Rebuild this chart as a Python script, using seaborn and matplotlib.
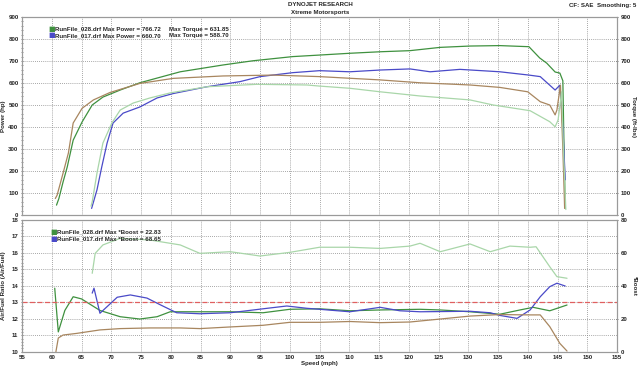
import matplotlib
matplotlib.use("Agg")
import matplotlib.pyplot as plt
from matplotlib.ticker import MultipleLocator
import seaborn as sns
import pandas as pd

# ---------------- data ----------------
p028_mph = [60.8, 61.2, 61.9, 62.6, 63.6, 65.1, 66.8, 68.6, 71.5, 74.8, 81.6, 88.8, 93.8, 100.5, 105.0,
            110.0, 115.2, 120.2, 125.3, 130.3, 135.3, 140.2, 142.0, 143.2, 144.6, 145.4, 145.9, 146.1, 146.3]
p028_hp = [45, 75, 150, 218, 340, 423, 500, 536, 568, 601, 651, 682, 701, 720, 727,
           735, 742, 747, 762, 768, 770, 765, 714, 690, 650, 645, 610, 300, 30]

t028_mph = [60.6, 60.9, 61.9, 62.8, 63.6, 65.1, 67.0, 69.8, 74.8, 80.4, 88.8, 97.2, 105.0, 115.2, 121.9,
            130.3, 135.3, 140.0, 142.1, 143.7, 144.6, 144.9, 145.5, 145.9, 146.2]
t028_tq = [75, 90, 190, 282, 418, 485, 523, 557, 598, 621, 632, 636, 629, 614, 601,
           591, 580, 560, 515, 500, 455, 477, 590, 300, 30]

p017_mph = [66.7, 67.6, 68.4, 69.3, 70.3, 72.0, 74.8, 77.7, 80.4, 86.1, 91.6, 95.0, 100.5, 105.0, 110.1,
            115.2, 120.2, 123.6, 128.6, 135.3, 140.2, 142.1, 144.6, 145.4, 145.9, 146.3]
p017_hp = [30, 114, 218, 327, 418, 463, 491, 532, 552, 583, 606, 629, 647, 656, 651,
           659, 664, 651, 662, 651, 636, 629, 568, 590, 400, 160]

t017_mph = [66.6, 66.8, 67.6, 68.6, 70.1, 71.5, 73.7, 76.5, 79.9, 86.1, 94.5, 102.9, 105.0, 110.1, 115.2,
            121.9, 130.3, 134.2, 140.4, 143.7, 144.6, 145.1, 145.7, 146.0, 146.4]
t017_tq = [40, 60, 190, 327, 418, 477, 509, 532, 555, 583, 594, 591, 586, 576, 560,
           541, 523, 500, 474, 424, 401, 432, 560, 300, 25]

afr028_mph = [60.5, 61.1, 62.2, 63.6, 65.0, 68.1, 71.5, 74.8, 77.7, 79.9, 84.9, 90.0, 95.5, 100.0, 105.0,
              110.1, 115.2, 121.9, 125.3, 130.3, 135.3, 138.7, 140.9, 143.7, 146.6]
afr028 = [13.85, 11.2, 12.5, 13.33, 13.2, 12.5, 12.12, 11.98, 12.12, 12.42, 12.42, 12.42, 12.36, 12.57, 12.6,
          12.48, 12.53, 12.57, 12.53, 12.42, 12.27, 12.53, 12.69, 12.48, 12.83]

afr017_mph = [66.8, 67.1, 68.1, 69.3, 71.0, 73.2, 76.0, 78.2, 81.0, 84.9, 90.0, 96.2, 99.5, 102.9, 105.0,
              110.1, 115.2, 118.5, 121.9, 130.3, 133.7, 135.3, 138.2, 140.4, 142.1, 143.7, 144.9, 146.3]
afr017 = [13.55, 13.85, 12.33, 12.73, 13.3, 13.44, 13.25, 12.85, 12.36, 12.3, 12.36, 12.63, 12.77, 12.63, 12.57,
          12.42, 12.69, 12.48, 12.42, 12.45, 12.36, 12.2, 12.02, 12.53, 13.33, 13.94, 14.15, 13.98]

boost028_mph = [60.7, 61.1, 61.9, 64.2, 68.1, 71.5, 76.5, 81.6, 84.9, 90.0, 95.5, 100.0, 105.0, 110.1, 115.2,
                120.2, 125.3, 130.3, 135.3, 140.4, 142.1, 143.7, 145.4, 146.6]
boost028 = [0, 8.3, 10.1, 11.1, 13.2, 14.0, 14.4, 14.4, 14.0, 15.0, 16.0, 17.8, 17.8, 18.3, 17.6,
            18.0, 19.8, 21.6, 22.5, 22.3, 22.3, 15.2, 5.0, 0.4]

boost017_mph = [66.8, 67.3, 68.6, 71.5, 76.5, 81.6, 84.9, 90.0, 95.0, 100.0, 105.0, 110.1, 115.2, 120.2, 121.9,
                125.3, 130.3, 133.7, 137.0, 140.4, 141.4, 143.7, 144.9, 146.6]
boost017 = [47.5, 59.6, 64.7, 68.7, 67.7, 64.7, 59.6, 60.6, 58.0, 60.2, 63.3, 63.3, 62.6, 64.0, 65.7,
            60.6, 65.3, 60.6, 64.0, 63.3, 63.6, 51.5, 45.5, 44.5]

afr_target = 13.0
legend_top = ["RunFile_028.drf Max Power = 766.72", "RunFile_017.drf Max Power = 660.70"]
legend_top2 = ["Max Torque = 631.85", "Max Torque = 588.70"]
legend_bot = ["RunFile_028.drf Max *Boost = 22.83", "RunFile_017.drf Max *Boost = 68.65"]

# ---------------- style ----------------
sns.set_theme(style="white")
plt.rcParams['font.family'] = ['Liberation Sans', 'DejaVu Sans']
FS = 4.4
C_G = "#3f913f"
C_BR = "#a8865f"
C_BL = "#4a4ac8"
C_LG = "#a9d6a9"
GRIDC = "#8a8a8a"
SPC = "#9a9a9a"

fig = plt.figure(figsize=(6.4, 3.66), dpi=100)
fig.patch.set_facecolor("white")
W, H = 640, 366
ax1 = fig.add_axes([22 / W, 1 - 215 / H, 595 / W, 198 / H])
ax2 = fig.add_axes([22 / W, 1 - 351.7 / H, 595 / W, 132 / H])
ax1r = ax1.twinx()
ax2r = ax2.twinx()

lw = 0.9
sns.lineplot(x=p028_mph, y=p028_hp, ax=ax1, color=C_G, lw=lw)
sns.lineplot(x=p017_mph, y=p017_hp, ax=ax1, color=C_BL, lw=lw)
sns.lineplot(x=t028_mph, y=t028_tq, ax=ax1r, color=C_BR, lw=lw)
sns.lineplot(x=t017_mph, y=t017_tq, ax=ax1r, color=C_LG, lw=lw)

sns.lineplot(x=afr028_mph, y=afr028, ax=ax2, color=C_G, lw=lw)
sns.lineplot(x=afr017_mph, y=afr017, ax=ax2, color=C_BL, lw=lw)
sns.lineplot(x=boost028_mph, y=boost028, ax=ax2r, color=C_BR, lw=lw)
sns.lineplot(x=boost017_mph, y=boost017, ax=ax2r, color=C_LG, lw=lw)
ax2.axhline(afr_target, color="#e06060", lw=0.9, ls=(0, (4, 2)))

for a in (ax1, ax1r, ax2, ax2r):
    a.set_xlim(55, 155)
    for s in a.spines.values():
        s.set_color(SPC)
        s.set_linewidth(0.8)
    a.tick_params(labelsize=FS, pad=1.5, length=2, width=0.5, color="#444444", which="major", direction="inout")
    a.tick_params(which="minor", length=1.2, width=0.4, color="#444444", direction="inout")
    a.set_xlabel("")
    a.set_ylabel("")

ax1.set_ylim(0, 900)
ax1r.set_ylim(0, 900)
ax1.yaxis.set_major_locator(MultipleLocator(100))
ax1.yaxis.set_minor_locator(MultipleLocator(20))
ax1r.yaxis.set_major_locator(MultipleLocator(100))
ax2.set_ylim(10, 18)
ax2.yaxis.set_major_locator(MultipleLocator(1))
ax2.yaxis.set_minor_locator(MultipleLocator(0.2))
ax2r.set_ylim(0, 80)
ax2r.yaxis.set_major_locator(MultipleLocator(20))
for a in (ax1, ax2):
    a.xaxis.set_major_locator(MultipleLocator(5))
    a.xaxis.set_minor_locator(MultipleLocator(1))
    a.grid(True, which="major", color=GRIDC, ls=(0, (1, 1.5)), lw=0.6)
    a.set_axisbelow(True)
ax1.tick_params(axis="x", labelbottom=False)
ax1r.tick_params(axis="x", labelbottom=False)

def bold(a):
    for lab in a.get_xticklabels() + a.get_yticklabels():
        lab.set_fontweight("bold")
        lab.set_fontsize(FS)
for a in (ax1, ax1r, ax2, ax2r):
    bold(a)

ax1.set_ylabel("Power (hp)", fontsize=FS, fontweight="bold")
ax1.yaxis.set_label_coords(-16 / 595, 0.5)
ax1r.set_ylabel("Torque (ft-lbs)", fontsize=FS, fontweight="bold", rotation=270, va="center")
ax1r.yaxis.set_label_coords(1 + 17 / 595, 0.5)
ax2.set_ylabel("Air/Fuel Ratio (Air/Fuel)", fontsize=FS, fontweight="bold")
ax2.yaxis.set_label_coords(-16 / 595, 0.5)
ax2r.set_ylabel("*Boost", fontsize=FS, fontweight="bold", rotation=270, va="center")
ax2r.yaxis.set_label_coords(1 + 17 / 595, 0.5)
ax2.set_xlabel("Speed (mph)", fontsize=FS, fontweight="bold", labelpad=0.5)

# header text
fig.text(320 / W, 1 - 5 / H, "DYNOJET RESEARCH", ha="center", va="center", fontsize=FS, fontweight="bold")
fig.text(320 / W, 1 - 12.5 / H, "Xtreme Motorsports", ha="center", va="center", fontsize=FS, fontweight="bold")
fig.text(636 / W, 1 - 5 / H, "CF: SAE  Smoothing: 5", ha="right", va="center", fontsize=FS, fontweight="bold")

# legends
for i, (col, t1, t2) in enumerate(zip([C_G, C_BL], legend_top, legend_top2)):
    y = 1 - (29 + 6.5 * i) / H
    fig.text(48 / W, y, "\u25A0", color=col, ha="left", va="center", fontsize=5, family="DejaVu Sans")
    fig.text(55 / W, y, t1, ha="left", va="center", fontsize=FS, fontweight="bold")
    fig.text(169 / W, y, t2, ha="left", va="center", fontsize=FS, fontweight="bold")
for i, (col, t1) in enumerate(zip([C_G, C_BL], legend_bot)):
    y = 1 - (232 + 6.5 * i) / H
    fig.text(50 / W, y, "\u25A0", color=col, ha="left", va="center", fontsize=5, family="DejaVu Sans")
    fig.text(57 / W, y, t1, ha="left", va="center", fontsize=FS, fontweight="bold")

fig.savefig("out.png", dpi=100, facecolor="white")
